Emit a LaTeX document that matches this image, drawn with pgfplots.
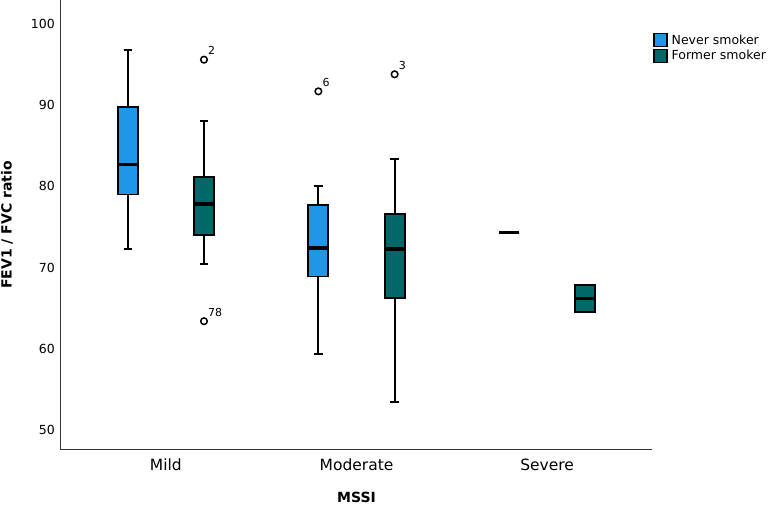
\documentclass[border=0pt]{standalone}
\usepackage{fontspec}
\setmainfont{DejaVu Sans}
\usepackage{pgfplots}
\pgfplotsset{compat=1.18}
\usepgfplotslibrary{statistics}
\definecolor{nevercol}{RGB}{31,151,230}
\definecolor{formercol}{RGB}{0,104,104}
\begin{document}
\begin{tikzpicture}
\path[use as bounding box] (-61pt,-55pt) rectangle (710pt,450pt);
\begin{axis}[
  at={(0pt,0pt)}, anchor=south west,
  scale only axis, width=591pt, height=450pt,
  xmin=-0.55, xmax=2.55, ymin=47.54, ymax=102.95,
  axis lines*=left,
  axis line style={line width=1pt, black!80},
  xtick={0,1,2}, xticklabels={Mild,Moderate,Severe},
  ytick={50,60,70,80,90,100},
  major tick length=0pt,
  /pgf/number format/assume math mode=true,
  yticklabel style={font=\fontsize{12.5}{15}\selectfont, inner sep=0pt, xshift=-6pt},
  xticklabel style={font=\fontsize{15.5}{18}\selectfont, inner sep=0pt, yshift=-9pt},
  every axis y label/.style={at={(axis description cs:-0.0914,0.5)}, rotate=90, anchor=center, font=\fontsize{14}{16}\selectfont\bfseries},
  every axis x label/.style={at={(axis description cs:0.5,0)}, anchor=base, yshift=-52.5pt, font=\fontsize{14}{16}\selectfont\bfseries},
  ylabel={FEV1 / FVC ratio},
  xlabel={MSSI},
  boxplot/draw direction=y,
  boxplot/box extend=0.105,
  boxplot/whisker extend=0.044,
  boxplot/every median/.style={line width=3.5pt},
  boxplot/every box/.style={line width=1.8pt},
  boxplot/draw/lower whisker/.code={%
    \draw[line width=2pt, black]
      (boxplot cs:\pgfplotsboxplotvalue{lower quartile}) --
      (boxplot cs:\pgfplotsboxplotvalue{lower whisker})
      (boxplot whisker cs:\pgfplotsboxplotvalue{lower whisker},0) --
      (boxplot whisker cs:\pgfplotsboxplotvalue{lower whisker},1);},
  boxplot/draw/upper whisker/.code={%
    \draw[line width=2pt, black]
      (boxplot cs:\pgfplotsboxplotvalue{upper quartile}) --
      (boxplot cs:\pgfplotsboxplotvalue{upper whisker})
      (boxplot whisker cs:\pgfplotsboxplotvalue{upper whisker},0) --
      (boxplot whisker cs:\pgfplotsboxplotvalue{upper whisker},1);},
  legend style={at={(axis description cs:1.002,0.9267)}, anchor=north west, draw=none, fill=none, inner sep=0pt, row sep=1.2pt, font=\fontsize{12.5}{14}\selectfont, nodes={inner sep=0.5pt}},
  legend cell align=left,
]
% Mild
\addplot[forget plot, boxplot prepared={draw position=-0.2, lower whisker=72.3, lower quartile=79.0, median=82.7, upper quartile=89.8, upper whisker=96.8}, draw=black, fill=nevercol, line width=1.8pt] coordinates {};
\addplot[forget plot, boxplot prepared={draw position=0.2, lower whisker=70.5, lower quartile=74.0, median=77.8, upper quartile=81.2, upper whisker=88.1}, draw=black, fill=formercol, line width=1.8pt, mark=o, mark size=3.3pt, mark options={draw=black, fill=none, line width=1.5pt}] table[row sep=\\, y index=0] {95.6\\63.4\\};
% Moderate
\addplot[forget plot, boxplot prepared={draw position=0.8, lower whisker=59.4, lower quartile=68.9, median=72.4, upper quartile=77.7, upper whisker=80.0}, draw=black, fill=nevercol, line width=1.8pt, mark=o, mark size=3.3pt, mark options={draw=black, fill=none, line width=1.5pt}] table[row sep=\\, y index=0] {91.7\\};
\addplot[forget plot, boxplot prepared={draw position=1.2, lower whisker=53.5, lower quartile=66.3, median=72.3, upper quartile=76.6, upper whisker=83.4}, draw=black, fill=formercol, line width=1.8pt, mark=o, mark size=3.3pt, mark options={draw=black, fill=none, line width=1.5pt}] table[row sep=\\, y index=0] {93.8\\};
% Severe
\addplot[forget plot, boxplot prepared={draw position=1.8, lower whisker=74.3, lower quartile=74.3, median=74.3, upper quartile=74.3, upper whisker=74.3}, draw=black, fill=nevercol, line width=1.8pt] coordinates {};
\addplot[forget plot, boxplot prepared={draw position=2.2, lower whisker=64.5, lower quartile=64.5, median=66.2, upper quartile=67.9, upper whisker=67.9}, draw=black, fill=formercol, line width=1.8pt] coordinates {};
% outlier labels
\node[anchor=west, font=\fontsize{11}{13}\selectfont, inner sep=0pt] at (axis cs:0.2,95.6) [xshift=4pt, yshift=9pt] {2};
\node[anchor=west, font=\fontsize{11}{13}\selectfont, inner sep=0pt] at (axis cs:0.2,63.4) [xshift=4pt, yshift=9pt] {78};
\node[anchor=west, font=\fontsize{11}{13}\selectfont, inner sep=0pt] at (axis cs:0.8,91.7) [xshift=4pt, yshift=9pt] {6};
\node[anchor=west, font=\fontsize{11}{13}\selectfont, inner sep=0pt] at (axis cs:1.2,93.8) [xshift=4pt, yshift=9pt] {3};
% legend
\addlegendimage{legend image code/.code={\draw[fill=nevercol, draw=black, line width=1.2pt] (0pt,-6.5pt) rectangle (13pt,6.5pt); \path (17pt,0pt);}}
\addlegendentry{Never smoker}
\addlegendimage{legend image code/.code={\draw[fill=formercol, draw=black, line width=1.2pt] (0pt,-6.5pt) rectangle (13pt,6.5pt); \path (17pt,0pt);}}
\addlegendentry{Former smoker}
\end{axis}
\end{tikzpicture}
\end{document}
